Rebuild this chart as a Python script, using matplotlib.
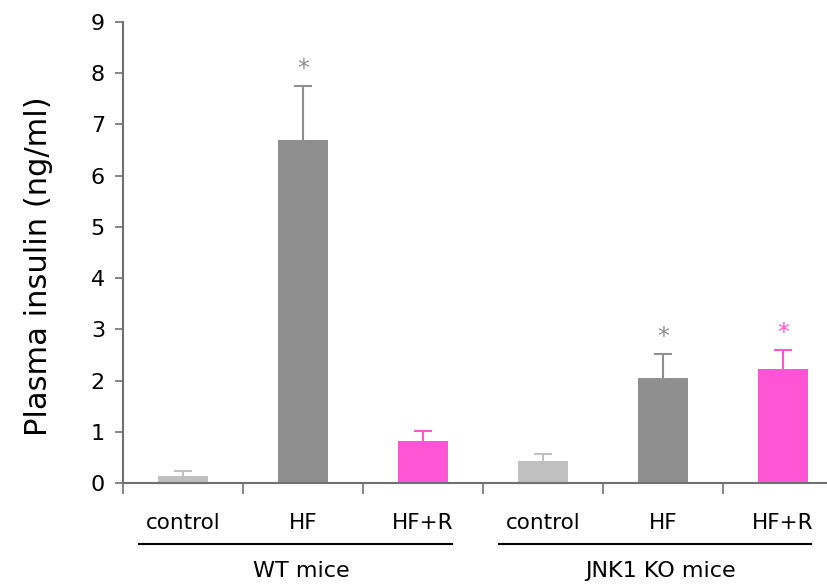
import matplotlib.pyplot as plt

# data
groups = ['WT mice', 'JNK1 KO mice']
conditions = ['control', 'HF', 'HF+R']
insulin = [0.13, 6.70, 0.82, 0.43, 2.05, 2.23]
sem = [0.10, 1.05, 0.20, 0.14, 0.47, 0.37]
starred = [False, True, False, False, True, True]

LIGHT = '#c0c0c0'
GRAY = '#8f8f8f'
PINK = '#ff55d5'
bar_colors = [LIGHT, GRAY, PINK] * 2
AXIS = '#707070'

plt.rcParams['font.family'] = ['DejaVu Sans']

fig = plt.figure(figsize=(8.27, 5.84), dpi=100)
ax = fig.add_axes([123 / 827, 1 - 483 / 584, 704 / 827, 461 / 584])

x = list(range(len(insulin)))
ax.bar(x, insulin, width=0.42, color=bar_colors, zorder=2)
# upward-only error bars, no cap at the bar top
for xi, v, e, c, s in zip(x, insulin, sem, bar_colors, starred):
    ax.vlines(xi, v, v + e, color=c, lw=1.5, zorder=1)
    ax.plot([xi], [v + e], marker='_', ms=13, mew=1.5, color=c, zorder=1)
    if s:
        ax.text(xi, v + e + 0.1, '*', color=c, ha='center', va='bottom',
                fontsize=17)

ax.set_xlim(-0.5, -0.5 + 704 / 120)
ax.set_ylim(0, 9)
ax.set_yticks(range(10))
ax.set_xticks([i - 0.5 for i in range(6)])
ax.set_xticklabels([])
ax.tick_params(axis='y', labelsize=16, length=6, width=1.2, color=AXIS, pad=7)
ax.tick_params(axis='x', length=8, width=1.2, color=AXIS)
for sp in ['top', 'right']:
    ax.spines[sp].set_visible(False)
for sp in ['left', 'bottom']:
    ax.spines[sp].set_color(AXIS)
    ax.spines[sp].set_linewidth(1.5)

ax.set_ylabel('Plasma insulin (ng/ml)', fontsize=22)
ax.yaxis.set_label_coords(-0.10, 0.47)

trans = ax.get_xaxis_transform()
for i, cond in enumerate(conditions * 2):
    ax.text(i, -0.087, cond, transform=trans, ha='center', va='center',
            fontsize=15.5)
for g, (x0, x1) in zip(groups, [(-0.37, 2.24), (2.63, 5.23)]):
    ax.plot([x0, x1], [-0.132, -0.132], transform=trans, color='black',
            lw=1.5, clip_on=False)
    ax.text((x0 + x1) / 2 + 0.05, -0.19, g, transform=trans, ha='center',
            va='center', fontsize=16)

fig.savefig('out.png', dpi=100)
